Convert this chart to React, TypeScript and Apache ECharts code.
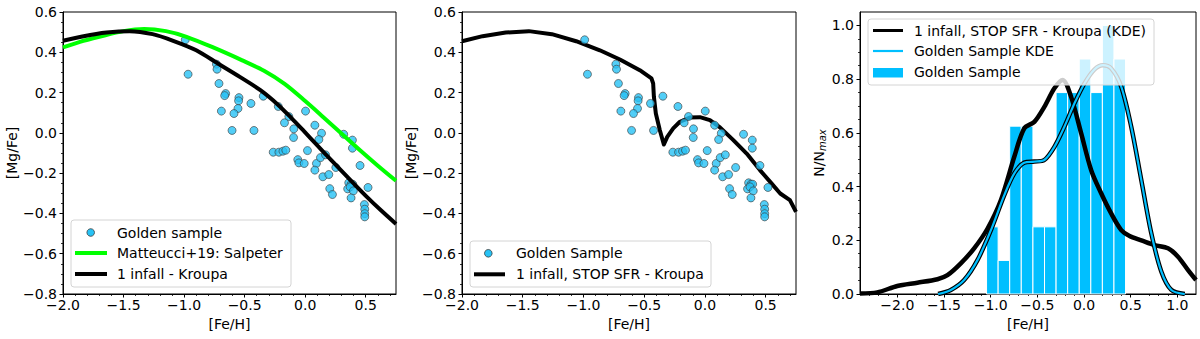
import React, { useEffect, useRef } from 'react';
import * as echarts from 'echarts';

// Golden sample stars: [Fe/H] and [Mg/Fe]
const goldenFeH = [-0.99, -0.967, -0.733, -0.728, -0.712, -0.657, -0.665, -0.547, -0.55, -0.448, -0.555, -0.692, -0.588, -0.604, -0.423, -0.346, -0.222, 0.003, -0.135, -0.171, -0.094, -0.096, -0.264, -0.217, -0.184, -0.16, -0.061, -0.052, -0.008, 0.019, 0.08, 0.135, 0.113, 0.093, 0.126, 0.08, 0.168, 0.146, 0.195, 0.203, 0.225, 0.253, 0.318, 0.39, 0.39, 0.453, 0.36, 0.379, 0.393, 0.351, 0.371, 0.398, 0.379, 0.519, 0.489, 0.492, 0.492, 0.492];
const goldenMgFe = [0.462, 0.291, 0.341, 0.316, 0.245, 0.195, 0.185, 0.175, 0.159, 0.146, 0.121, 0.108, 0.096, 0.012, 0.012, 0.182, 0.131, 0.108, 0.081, 0.05, 0.02, -0.023, -0.096, -0.096, -0.091, -0.086, -0.133, -0.149, -0.152, -0.088, 0.038, -0.002, -0.033, -0.152, -0.123, -0.185, -0.109, -0.218, -0.207, -0.277, -0.306, -0.172, -0.007, -0.036, -0.076, -0.162, -0.248, -0.255, -0.255, -0.278, -0.268, -0.288, -0.323, -0.271, -0.356, -0.379, -0.401, -0.417];

// Matteucci+19 Salpeter model
const salpeterFeH = [-2.0, -1.86, -1.7, -1.5, -1.33, -1.15, -0.98, -0.76, -0.52, -0.34, -0.17, 0.0, 0.15, 0.32, 0.46, 0.6, 0.75];
const salpeterMgFe = [0.424, 0.452, 0.477, 0.505, 0.516, 0.505, 0.477, 0.424, 0.36, 0.308, 0.243, 0.158, 0.078, -0.014, -0.09, -0.163, -0.238];

// 1 infall - Kroupa model
const kroupaFeH = [-2.0, -1.83, -1.64, -1.45, -1.26, -1.09, -0.9, -0.72, -0.54, -0.37, -0.225, -0.115, -0.01, 0.1, 0.235, 0.37, 0.505, 0.63, 0.75];
const kroupaMgFe = [0.457, 0.48, 0.498, 0.505, 0.49, 0.457, 0.41, 0.344, 0.278, 0.212, 0.14, 0.074, 0.008, -0.062, -0.148, -0.232, -0.315, -0.387, -0.452];

// 1 infall, STOP SFR - Kroupa model
const stopFeH = [-2.0, -1.83, -1.64, -1.45, -1.26, -1.06, -0.865, -0.7, -0.536, -0.44, -0.426, -0.42, -0.404, -0.371, -0.338, -0.31, -0.261, -0.206, -0.124, -0.041, 0.041, 0.124, 0.234, 0.344, 0.453, 0.55, 0.62, 0.7, 0.75];
const stopMgFe = [0.455, 0.48, 0.498, 0.505, 0.49, 0.455, 0.41, 0.364, 0.311, 0.27, 0.245, 0.179, 0.096, 0.013, -0.058, -0.02, 0.022, 0.055, 0.076, 0.078, 0.063, 0.027, -0.036, -0.103, -0.185, -0.252, -0.301, -0.334, -0.392];

// Histogram of the golden sample (normalised to max)
const histEdges = [-1.044, -0.92, -0.796, -0.672, -0.547, -0.423, -0.299, -0.175, -0.051, 0.073, 0.197, 0.321, 0.445];
const histHeights = [0.25, 0.125, 0.625, 0.625, 0.25, 0.25, 0.75, 0.75, 0.875, 0.75, 1.0, 0.875];

// KDE of the model (STOP SFR)
const modelKdeX = [-2.4, -2.215, -2.0, -1.785, -1.57, -1.463, -1.32, -1.177, -1.033, -0.89, -0.747, -0.64, -0.532, -0.425, -0.317, -0.228, -0.138, -0.03, 0.077, 0.184, 0.291, 0.399, 0.488, 0.614, 0.757, 0.9, 1.007, 1.115, 1.2];
const modelKdeY = [0.002, 0.006, 0.03, 0.042, 0.055, 0.07, 0.114, 0.17, 0.244, 0.35, 0.511, 0.617, 0.641, 0.697, 0.766, 0.797, 0.734, 0.598, 0.461, 0.375, 0.3, 0.238, 0.216, 0.2, 0.182, 0.17, 0.139, 0.089, 0.052];

// KDE of the golden sample
const goldenKdeX = [-1.563, -1.427, -1.284, -1.14, -0.997, -0.854, -0.747, -0.64, -0.532, -0.425, -0.317, -0.21, -0.102, 0.005, 0.112, 0.202, 0.291, 0.399, 0.506, 0.614, 0.721, 0.829, 0.936, 1.08];
const goldenKdeY = [0.0, 0.015, 0.052, 0.127, 0.238, 0.368, 0.449, 0.489, 0.493, 0.499, 0.548, 0.623, 0.71, 0.784, 0.836, 0.852, 0.84, 0.772, 0.623, 0.424, 0.226, 0.083, 0.015, 0.0];

const abundTicks = [-2.0, -1.5, -1.0, -0.5, 0.0, 0.5];
const mgTicks = [-0.8, -0.6, -0.4, -0.2, 0.0, 0.2, 0.4, 0.6];
const histXTicks = [-2.0, -1.5, -1.0, -0.5, 0.0, 0.5, 1.0];
const histYTicks = [0.0, 0.2, 0.4, 0.6, 0.8, 1.0];

const FONT = 'DejaVu Sans';
const SKY = '#00BFFF';
const MARKER = '#27C2F5';
const LIME = '#00FF00';

const zip = (a: number[], b: number[]) => a.map((v, i) => [v, b[i]]);
const fmt = (v: number) => v.toFixed(1).replace('-', '\u2212');

function xAxisCfg(grid: number, min: number, max: number, ticks: number[]) {
  return {
    type: 'value', gridIndex: grid, min, max, interval: 0.5,
    name: '[Fe/H]', nameLocation: 'middle', nameGap: 17,
    nameTextStyle: { fontFamily: FONT, fontSize: 14, color: '#000' },
    axisLine: { show: true, onZero: false, lineStyle: { color: '#000', width: 1 } },
    axisTick: { show: true, inside: false, length: 3.5, customValues: ticks, lineStyle: { color: '#000', width: 1 } },
    minorTick: { show: true, splitNumber: 5, length: 2, lineStyle: { color: '#000', width: 0.8 } },
    axisLabel: { customValues: ticks, formatter: fmt, margin: 4, fontFamily: FONT, fontSize: 14, color: '#000' },
    splitLine: { show: false },
  };
}

function yAxisCfg(grid: number, min: number, max: number, ticks: number[], name: string, gap: number) {
  return {
    type: 'value', gridIndex: grid, min, max, interval: 0.2,
    name, nameLocation: 'middle', nameGap: gap,
    nameTextStyle: {
      fontFamily: FONT, fontSize: 14, color: '#000',
      rich: { sub: { fontFamily: FONT, fontSize: 10, fontStyle: 'italic', color: '#000', padding: [7, 0, 0, 0] } },
    },
    axisLine: { show: true, onZero: false, lineStyle: { color: '#000', width: 1 } },
    axisTick: { show: true, inside: false, length: 3.5, customValues: ticks, lineStyle: { color: '#000', width: 1 } },
    minorTick: { show: true, splitNumber: 4, length: 2, lineStyle: { color: '#000', width: 0.8 } },
    axisLabel: { customValues: ticks, formatter: fmt, margin: 6, fontFamily: FONT, fontSize: 14, color: '#000' },
    splitLine: { show: false },
  };
}

function legendBox(x: number, y: number, w: number, h: number) {
  return {
    type: 'rect', z: 100,
    shape: { x, y, width: w, height: h, r: 3 },
    style: { fill: 'rgba(255,255,255,0.8)', stroke: '#d4d4d4', lineWidth: 1 },
  };
}
function legendText(x: number, y: number, text: string) {
  return {
    type: 'text', z: 101, x, y,
    style: { text, fill: '#000', font: `14px "${FONT}"`, verticalAlign: 'middle', textAlign: 'left' },
  };
}
function legendLine(x1: number, x2: number, y: number, color: string, w: number) {
  return { type: 'line', z: 101, shape: { x1, y1: y, x2, y2: y }, style: { stroke: color, lineWidth: w } };
}

export default function App() {
  const ref = useRef<HTMLDivElement>(null);
  useEffect(() => {
    if (!ref.current) return;
    const chart = echarts.init(ref.current, undefined, { renderer: 'svg' });
    const histData = histHeights.map((h, i) => [histEdges[i], histEdges[i + 1], h]);

    chart.setOption({
      animation: false,
      backgroundColor: '#fff',
      grid: [
        { left: 63, top: 12, width: 333, height: 282, show: true, borderColor: '#000', borderWidth: 1, backgroundColor: 'transparent' },
        { left: 462, top: 12, width: 334, height: 282, show: true, borderColor: '#000', borderWidth: 1, backgroundColor: 'transparent' },
        { left: 860, top: 12, width: 336, height: 282, show: true, borderColor: '#000', borderWidth: 1, backgroundColor: 'transparent' },
      ],
      xAxis: [
        xAxisCfg(0, -2.0, 0.75, abundTicks),
        xAxisCfg(1, -2.0, 0.75, abundTicks),
        xAxisCfg(2, -2.4, 1.2, histXTicks),
      ],
      yAxis: [
        yAxisCfg(0, -0.8, 0.6, mgTicks, '[Mg/Fe]', 41),
        yAxisCfg(1, -0.8, 0.6, mgTicks, '[Mg/Fe]', 41),
        yAxisCfg(2, 0.0, 1.05, histYTicks, 'N/N{sub|max}', 30),
      ],
      series: [
        {
          name: 'Golden sample', type: 'scatter', xAxisIndex: 0, yAxisIndex: 0, z: 2,
          data: zip(goldenFeH, goldenMgFe), symbol: 'circle', symbolSize: 8,
          itemStyle: { color: MARKER, borderColor: '#3c3c3c', borderWidth: 0.8 },
        },
        {
          name: 'Matteucci+19: Salpeter', type: 'line', xAxisIndex: 0, yAxisIndex: 0, z: 3,
          data: zip(salpeterFeH, salpeterMgFe), showSymbol: false, symbol: 'none', smooth: 0.3,
          lineStyle: { color: LIME, width: 4, join: 'round' },
        },
        {
          name: '1 infall - Kroupa', type: 'line', xAxisIndex: 0, yAxisIndex: 0, z: 4,
          data: zip(kroupaFeH, kroupaMgFe), showSymbol: false, symbol: 'none', smooth: 0.3,
          lineStyle: { color: '#000', width: 4, join: 'round' },
        },
        {
          name: '1 infall, STOP SFR - Kroupa', type: 'line', xAxisIndex: 1, yAxisIndex: 1, z: 3,
          data: zip(stopFeH, stopMgFe), showSymbol: false, symbol: 'none', smooth: false,
          lineStyle: { color: '#000', width: 4, join: 'round' },
        },
        {
          name: 'Golden Sample', type: 'scatter', xAxisIndex: 1, yAxisIndex: 1, z: 4,
          data: zip(goldenFeH, goldenMgFe), symbol: 'circle', symbolSize: 8,
          itemStyle: { color: MARKER, borderColor: '#3c3c3c', borderWidth: 0.8 },
        },
        {
          name: 'Golden Sample hist', type: 'custom', xAxisIndex: 2, yAxisIndex: 2, z: 2,
          data: histData, encode: { x: [0, 1], y: 2 },
          renderItem: (params: any, api: any) => {
            const p0 = api.coord([api.value(0), api.value(2)]);
            const p1 = api.coord([api.value(1), 0]);
            return {
              type: 'rect',
              shape: { x: p0[0], y: p0[1], width: p1[0] - p0[0], height: p1[1] - p0[1] },
              style: { fill: SKY, stroke: '#fff', lineWidth: 1 },
            };
          },
        },
        {
          name: 'model KDE', type: 'line', xAxisIndex: 2, yAxisIndex: 2, z: 3,
          data: zip(modelKdeX, modelKdeY), showSymbol: false, symbol: 'none', smooth: 0.3,
          lineStyle: { color: '#000', width: 4.5, join: 'round' },
        },
        {
          name: 'golden KDE outline', type: 'line', xAxisIndex: 2, yAxisIndex: 2, z: 4,
          data: zip(goldenKdeX, goldenKdeY), showSymbol: false, symbol: 'none', smooth: 0.3,
          lineStyle: { color: '#000', width: 4.5, join: 'round' },
        },
        {
          name: 'Golden Sample KDE', type: 'line', xAxisIndex: 2, yAxisIndex: 2, z: 5,
          data: zip(goldenKdeX, goldenKdeY), showSymbol: false, symbol: 'none', smooth: 0.3,
          lineStyle: { color: SKY, width: 2.2, join: 'round' },
        },
      ],
      graphic: {
        elements: [
          // Panel 1 legend
          legendBox(71, 220, 220, 67),
          { type: 'circle', z: 101, shape: { cx: 90.7, cy: 232.5, r: 3.8 }, style: { fill: MARKER, stroke: '#3c3c3c', lineWidth: 0.8 } },
          legendLine(75, 107, 253, LIME, 4),
          legendLine(75, 107, 274, '#000', 4),
          legendText(117, 232.5, 'Golden sample'),
          legendText(117, 253, 'Matteucci+19: Salpeter'),
          legendText(117, 274, '1 infall - Kroupa'),
          // Panel 2 legend
          legendBox(470, 241, 241, 46),
          { type: 'circle', z: 101, shape: { cx: 488.3, cy: 253.3, r: 3.8 }, style: { fill: MARKER, stroke: '#3c3c3c', lineWidth: 0.8 } },
          legendLine(474, 505, 274.3, '#000', 4),
          legendText(516, 253.3, 'Golden Sample'),
          legendText(516, 274.3, '1 infall, STOP SFR - Kroupa'),
          // Panel 3 legend
          legendBox(868, 19, 286, 66),
          legendLine(873, 903, 30.5, '#000', 3),
          legendLine(873, 903, 51, SKY, 2.2),
          { type: 'rect', z: 101, shape: { x: 873, y: 68, width: 30, height: 9.5 }, style: { fill: SKY } },
          legendText(914, 30.5, '1 infall, STOP SFR - Kroupa (KDE)'),
          legendText(914, 51, 'Golden Sample KDE'),
          legendText(914, 72, 'Golden Sample'),
        ],
      },
    });
    return () => chart.dispose();
  }, []);
  return <div ref={ref} style={{ position: 'absolute', left: 0, top: 0, width: 1200, height: 339 }} />;
}
